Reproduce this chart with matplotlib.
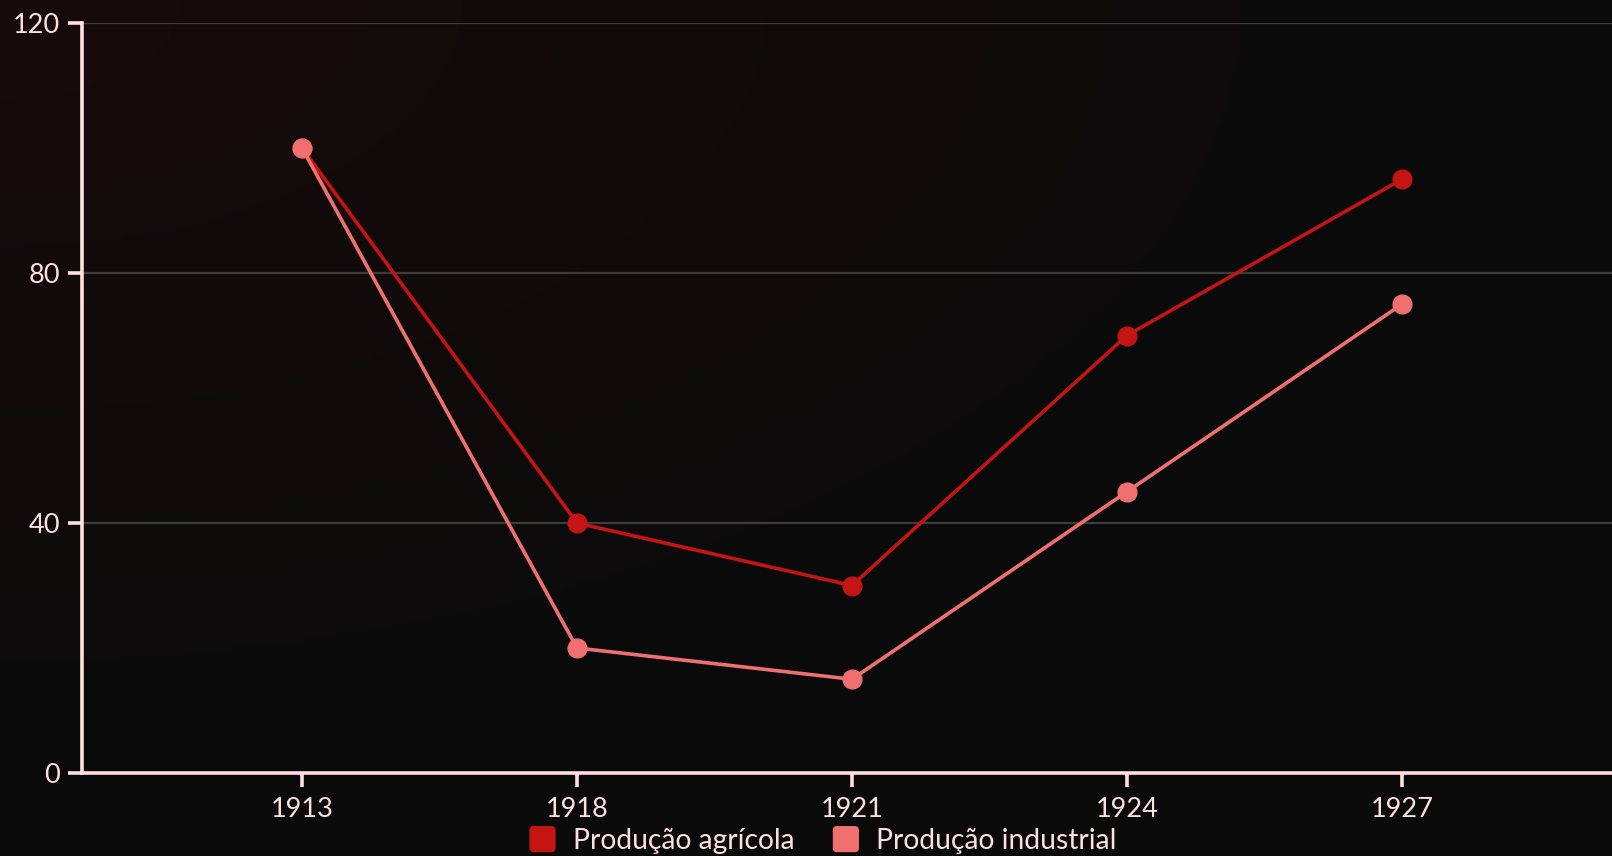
import numpy as np
import matplotlib.pyplot as plt
from matplotlib.patches import FancyBboxPatch
from matplotlib.legend_handler import HandlerPatch

years = ['1913', '1918', '1921', '1924', '1927']
agricola = [100, 40, 30, 70, 95]
industrial = [100, 20, 15, 45, 75]
series_names = ['Produção agrícola', 'Produção industrial']
colors = ['#C41414', '#F07070']
y_ticks = [0, 40, 80, 120]

plt.rcParams['font.family'] = ['Lato', 'DejaVu Sans']
fg = '#FFE0E0'

fig = plt.figure(figsize=(16.12, 8.56), dpi=100)
fig.patch.set_facecolor('#0a0a0a')

# faint reddish glow in the top-left corner
bg = fig.add_axes([0, 0, 1, 1], zorder=0)
h, w = 200, 380
yy, xx = np.mgrid[0:h, 0:w]
d = np.sqrt((xx / w) ** 2 + (yy / h) ** 2) / np.sqrt(2)
t = np.clip(1 - d / 0.7, 0, 1) ** 1.3
base = np.array([10, 10, 10]) / 255
glow = np.array([24, 11, 11]) / 255
img = base + (glow - base) * t[..., None]
bg.imshow(img, aspect='auto', extent=[0, 1, 0, 1])
bg.axis('off')

ax = fig.add_axes([82 / 1612, 1 - 773 / 856, 1 - 82 / 1612, (773 - 23) / 856], zorder=1)
ax.set_facecolor('none')

x = np.arange(len(years))
for vals, c, name in zip([agricola, industrial], colors, series_names):
    ax.plot(x, vals, color=c, lw=2.6, marker='o', ms=13.5, label=name, zorder=3)

ax.set_xlim(-0.8, 4.764)
ax.set_ylim(0, 120)
ax.set_xticks(x)
ax.set_xticklabels(years)
ax.set_yticks(y_ticks)

for yv in y_ticks[1:]:
    ax.axhline(yv, color='#3e3b3b', lw=1.6, zorder=1)

for s in ['top', 'right']:
    ax.spines[s].set_visible(False)
for s in ['left', 'bottom']:
    ax.spines[s].set_color(fg)
    ax.spines[s].set_linewidth(2.6)
    ax.spines[s].set_zorder(4)

ax.tick_params(axis='both', colors=fg, labelsize=19.5, width=2.6, length=10, direction='out')
ax.tick_params(axis='y', pad=6)
ax.tick_params(axis='x', pad=7)


class RoundBox(HandlerPatch):
    def create_artists(self, legend, orig_handle, xdescent, ydescent, width, height, fontsize, trans):
        s = min(width, height)
        p = FancyBboxPatch((-xdescent + (width - s) / 2, -ydescent + (height - s) / 2), s, s,
                           boxstyle='round,pad=0,rounding_size=3',
                           facecolor=orig_handle.get_facecolor(), edgecolor='none', transform=trans)
        return [p]


handles = [plt.Rectangle((0, 0), 1, 1, facecolor=c, edgecolor='none') for c in colors]
leg = fig.legend(handles, series_names, loc='lower center', bbox_to_anchor=(0.51, -0.027),
                 ncol=2, frameon=False, fontsize=20.3, handlelength=1.05, handleheight=1.05,
                 handletextpad=0.55, columnspacing=1.3,
                 handler_map={plt.Rectangle: RoundBox()})
for txt in leg.get_texts():
    txt.set_color(fg)

fig.savefig('out.png', dpi=100, facecolor=fig.get_facecolor())
